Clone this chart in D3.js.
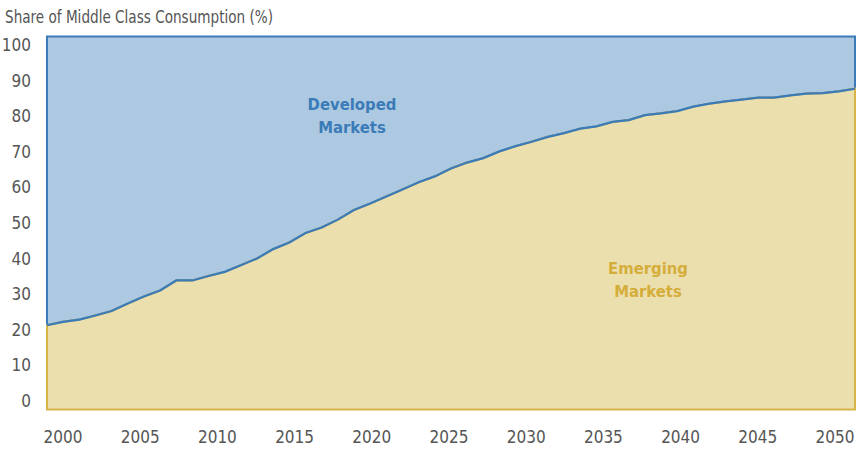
<!DOCTYPE html>
<html>
<head>
<meta charset="utf-8">
<script src="https://cdn.jsdelivr.net/npm/d3@7"></script>
<style>
  body { margin: 0; background: #fff; }
  svg text { font-family: "Liberation Sans Narrow", "DejaVu Sans Condensed", "Roboto", sans-serif; font-stretch: condensed; }
</style>
</head>
<body>
<svg id="chart" width="861" height="450"></svg>
<script>
// years on the x axis, one point a year
const years = d3.range(2000, 2051);

// emerging markets share (%); developed = 100 - emerging
const emerging = [
  22.6, 23.5, 24.1, 25.2, 26.4, 28.4, 30.3, 31.9, 34.6, 34.6,
  35.8, 36.9, 38.7, 40.5, 43.0, 44.8, 47.3, 48.8, 50.9, 53.5,
  55.2, 57.1, 59.0, 60.9, 62.5, 64.6, 66.2, 67.4, 69.2, 70.6,
  71.8, 73.1, 74.1, 75.3, 75.9, 77.1, 77.6, 78.9, 79.4, 80.0,
  81.2, 82.0, 82.6, 83.1, 83.6, 83.6, 84.2, 84.7, 84.8, 85.3,
  86.0
];

const xTickLabels = [2000, 2005, 2010, 2015, 2020, 2025, 2030, 2035, 2040, 2045, 2050];
const yTickLabels = [0, 10, 20, 30, 40, 50, 60, 70, 80, 90, 100];

const svg = d3.select('#chart');

// plot frame
const x = d3.scaleLinear().domain([2000, 2050]).range([47, 855]);
const y = d3.scaleLinear().domain([0, 100]).range([409.5, 36.5]);

// the axis labels sit a bit inside the frame, so they get their own scales
const xLabel = d3.scaleLinear().domain([2000, 2050]).range([63, 835]);
const yLabel = d3.scaleLinear().domain([0, 100]).range([401, 45]);

const data = years.map((yr, i) => ({ year: yr, em: emerging[i] }));

// Developed Markets (top)
const devArea = d3.area()
  .x(d => x(d.year))
  .y0(d => y(d.em))
  .y1(y(100));

// Emerging Markets (bottom)
const emArea = d3.area()
  .x(d => x(d.year))
  .y0(y(0))
  .y1(d => y(d.em));

svg.append('path')
  .datum(data)
  .attr('d', devArea)
  .attr('fill', '#adc9e1')
  .attr('stroke', '#3a7bb8')
  .attr('stroke-width', 2);

svg.append('path')
  .datum(data)
  .attr('d', emArea)
  .attr('fill', '#ecdfae')
  .attr('stroke', '#d8b448')
  .attr('stroke-width', 2);

// boundary line on top
svg.append('path')
  .datum(data)
  .attr('d', d3.line().x(d => x(d.year)).y(d => y(d.em)))
  .attr('fill', 'none')
  .attr('stroke', '#3a7bb8')
  .attr('stroke-width', 2.2);

// title
svg.append('text')
  .attr('x', 5)
  .attr('y', 23)
  .attr('font-size', 17)
  .attr('fill', '#555')
  .attr('textLength', 268)
  .attr('lengthAdjust', 'spacingAndGlyphs')
  .text('Share of Middle Class Consumption (%)');

// y labels
svg.append('g')
  .selectAll('text')
  .data(yTickLabels)
  .enter()
  .append('text')
  .attr('x', 31)
  .attr('y', d => yLabel(d))
  .attr('dy', '0.35em')
  .attr('text-anchor', 'end')
  .attr('font-size', 17)
  .attr('fill', '#555')
  .text(d => d);

// x labels
svg.append('g')
  .selectAll('text')
  .data(xTickLabels)
  .enter()
  .append('text')
  .attr('x', d => xLabel(d))
  .attr('y', 437)
  .attr('dy', '0.35em')
  .attr('text-anchor', 'middle')
  .attr('font-size', 17)
  .attr('fill', '#555')
  .text(d => d);

// series labels
function seriesLabel(lines, cx, cy, color) {
  svg.append('text')
    .attr('text-anchor', 'middle')
    .attr('font-size', 16.5)
    .attr('font-weight', 'bold')
    .attr('fill', color)
    .selectAll('tspan')
    .data(lines)
    .enter()
    .append('tspan')
    .attr('x', cx)
    .attr('y', (d, i) => cy + i * 23)
    .text(d => d);
}
seriesLabel(['Developed', 'Markets'], 352, 110, '#3a7bb8');
seriesLabel(['Emerging', 'Markets'], 648, 274, '#d4ad3a');
</script>
</body>
</html>
